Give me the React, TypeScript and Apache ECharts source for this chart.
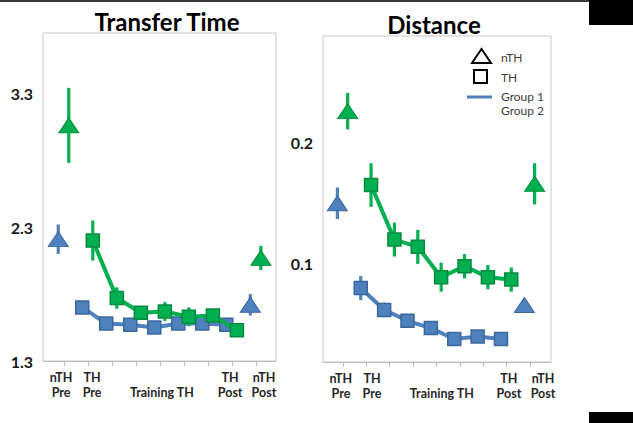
import React, { useEffect, useRef } from "react";
import * as echarts from "echarts";

// ---------- data ----------
const TICK_INDEX = [0, 1, 2, 3, 4, 5, 6, 7, 8];
const X_LABELS = ["nTH\nPre", "TH\nPre", "\nTraining TH", "TH\nPost", "nTH\nPost"];
const NTH_INDEX = [0, 8]; // nTH Pre, nTH Post
const TH_INDEX = [1, 2, 3, 4, 5, 6, 7]; // TH Pre, training x5, TH Post

// Transfer Time
const TT_TICKS = [1.3, 2.3, 3.3];
const TT_G1_NTH = [2.21, 1.72];
const TT_G1_NTH_ERR = [0.11, 0.08];
const TT_G2_NTH = [3.06, 2.07];
const TT_G2_NTH_ERR = [0.28, 0.09];
const TT_G1_TH = [1.70, 1.58, 1.57, 1.55, 1.58, 1.58, 1.57];
const TT_G1_TH_ERR = [0.02, 0.02, 0.02, 0.02, 0.02, 0.02, 0.02];
const TT_G2_TH = [2.20, 1.77, 1.66, 1.67, 1.63, 1.64, 1.53];
const TT_G2_TH_ERR = [0.15, 0.08, 0.04, 0.07, 0.07, 0.04, 0.05];

// Distance
const DI_TICKS = [0.1, 0.2];
const DI_G1_NTH = [0.150, 0.066];
const DI_G1_NTH_ERR = [0.013, 0.0];
const DI_G2_NTH = [0.226, 0.166];
const DI_G2_NTH_ERR = [0.015, 0.017];
const DI_G1_TH = [0.080, 0.062, 0.053, 0.047, 0.038, 0.040, 0.038];
const DI_G1_TH_ERR = [0.010, 0.006, 0.002, 0.002, 0.002, 0.002, 0.002];
const DI_G2_TH = [0.165, 0.120, 0.114, 0.089, 0.098, 0.089, 0.087];
const DI_G2_TH_ERR = [0.018, 0.014, 0.014, 0.012, 0.010, 0.010, 0.010];

// ---------- style / layout ----------
const BLUE = "#4f81bd";
const BLUE_DARK = "#3b679c";
const GREEN = "#00b050";
const GREEN_DARK = "#008a3e";
const FONT = "Lato, 'Open Sans', sans-serif";
const G1_OFF = -0.24;
const G2_OFF = 0.2;
const LABEL_POS_L = [-0.12, 1.17, 4.08, 6.92, 8.33];
const LABEL_POS_R = [-0.09, 1.24, 4.23, 7.1, 8.56];

const pts = (idx: number[], off: number, vals: number[], errs?: number[]) =>
  idx.map((i, k) => (errs ? [i + off, vals[k], errs[k]] : [i + off, vals[k]]));

function errSeries(gi: number, color: string, data: number[][]) {
  return {
    type: "custom",
    xAxisIndex: gi,
    yAxisIndex: gi,
    z: 2,
    encode: { x: 0, y: 1 },
    data,
    renderItem: (_p: any, api: any) => {
      const x = api.value(0);
      const y = api.value(1);
      const e = api.value(2);
      const a = api.coord([x, y + e]);
      const b = api.coord([x, y - e]);
      return {
        type: "line",
        shape: { x1: a[0], y1: a[1], x2: b[0], y2: b[1] },
        style: { stroke: color, lineWidth: 3.2 },
      };
    },
  };
}

function panelSeries(
  gi: number,
  g1nth: number[], g1nthE: number[], g2nth: number[], g2nthE: number[],
  g1th: number[], g1thE: number[], g2th: number[], g2thE: number[]
) {
  const tri = (color: string, dark: string, data: number[][]) => ({
    type: "scatter",
    xAxisIndex: gi,
    yAxisIndex: gi,
    symbol: "triangle",
    symbolSize: [20, 15],
    z: 4,
    itemStyle: { color, borderColor: dark, borderWidth: 1, opacity: 1 },
    data,
  });
  const sq = (color: string, dark: string, data: number[][], z: number) => ({
    type: "line",
    xAxisIndex: gi,
    yAxisIndex: gi,
    symbol: "rect",
    symbolSize: 13,
    z,
    lineStyle: { color, width: 4 },
    itemStyle: { color, borderColor: dark, borderWidth: 1.5 },
    data,
  });
  return [
    errSeries(gi, BLUE, pts(TH_INDEX, G1_OFF, g1th, g1thE)),
    errSeries(gi, BLUE, pts(NTH_INDEX, G1_OFF, g1nth, g1nthE)),
    sq(BLUE, BLUE_DARK, pts(TH_INDEX, G1_OFF, g1th), 3),
    tri(BLUE, BLUE_DARK, pts(NTH_INDEX, G1_OFF, g1nth)),
    { ...errSeries(gi, GREEN, pts(TH_INDEX, G2_OFF, g2th, g2thE)), z: 5 },
    { ...errSeries(gi, GREEN, pts(NTH_INDEX, G2_OFF, g2nth, g2nthE)), z: 5 },
    sq(GREEN, GREEN_DARK, pts(TH_INDEX, G2_OFF, g2th), 6),
    { ...tri(GREEN, GREEN_DARK, pts(NTH_INDEX, G2_OFF, g2nth)), z: 7 },
  ];
}

function xAxis(gi: number, min: number, max: number, labelPos: number[]) {
  return {
    type: "value",
    gridIndex: gi,
    min,
    max,
    splitLine: { show: false },
    axisLine: { show: true, onZero: false, lineStyle: { color: "#bdbdbd", width: 1 } },
    axisTick: {
      show: true,
      inside: false,
      length: 5,
      customValues: TICK_INDEX,
      lineStyle: { color: "#bdbdbd" },
    },
    axisLabel: {
      show: true,
      customValues: labelPos,
      formatter: (v: number) => {
        const k = labelPos.findIndex((p) => Math.abs(p - v) < 1e-6);
        return k >= 0 ? X_LABELS[k] : "";
      },
      margin: 9,
      color: "#262626",
      fontFamily: FONT,
      fontWeight: "bold",
      fontSize: 12.5,
      lineHeight: 15,
      hideOverlap: false,
    },
  };
}

function yAxis(gi: number, min: number, max: number, ticks: number[]) {
  return {
    type: "value",
    gridIndex: gi,
    min,
    max,
    splitLine: { show: false },
    axisLine: { show: false },
    axisTick: { show: false },
    axisLabel: {
      show: true,
      customValues: ticks,
      formatter: (v: number) => v.toFixed(1),
      margin: 10,
      color: "#1a1a1a",
      fontFamily: FONT,
      fontWeight: "bold",
      fontSize: 16,
    },
  };
}

export default function App() {
  const ref = useRef<HTMLDivElement>(null);
  useEffect(() => {
    if (!ref.current) return;
    const chart = echarts.init(ref.current, undefined, { renderer: "svg" });
    const option: any = {
      animation: false,
      backgroundColor: "#ffffff",
      title: [
        {
          text: "Transfer Time",
          left: 162,
          top: 4,
          textAlign: "center",
          textStyle: { fontFamily: FONT, fontWeight: "bold", fontSize: 24, color: "#000" },
        },
        {
          text: "Distance",
          left: 429,
          top: 7,
          textAlign: "center",
          textStyle: { fontFamily: FONT, fontWeight: "bold", fontSize: 24, color: "#000" },
        },
      ],
      grid: [
        { left: 43, top: 33, width: 233, height: 328, show: true, borderColor: "#c8c8c8", borderWidth: 1, backgroundColor: "#fff" },
        { left: 323, top: 36, width: 228, height: 326, show: true, borderColor: "#c8c8c8", borderWidth: 1, backgroundColor: "#fff" },
      ],
      xAxis: [xAxis(0, -0.875, 8.83, LABEL_POS_L), xAxis(1, -0.856, 8.9, LABEL_POS_R)],
      yAxis: [yAxis(0, 1.3, 3.75, TT_TICKS), yAxis(1, 0.019, 0.288, DI_TICKS)],
      series: [
        ...panelSeries(0, TT_G1_NTH, TT_G1_NTH_ERR, TT_G2_NTH, TT_G2_NTH_ERR, TT_G1_TH, TT_G1_TH_ERR, TT_G2_TH, TT_G2_TH_ERR),
        ...panelSeries(1, DI_G1_NTH, DI_G1_NTH_ERR, DI_G2_NTH, DI_G2_NTH_ERR, DI_G1_TH, DI_G1_TH_ERR, DI_G2_TH, DI_G2_TH_ERR),
      ],
      graphic: [
        { type: "rect", shape: { x: 0, y: 0, width: 633, height: 2 }, style: { fill: "#3c3c3c" } },
        { type: "rect", shape: { x: 589, y: 0, width: 44, height: 25 }, style: { fill: "#000" } },
        { type: "rect", shape: { x: 589, y: 412, width: 44, height: 11 }, style: { fill: "#000" } },
        {
          type: "polygon",
          shape: { points: [[472, 63], [491, 63], [481.5, 49]] },
          style: { fill: "none", stroke: "#000", lineWidth: 2 },
        },
        { type: "rect", shape: { x: 474, y: 70, width: 13, height: 13 }, style: { fill: "none", stroke: "#000", lineWidth: 2 } },
        { type: "line", shape: { x1: 467, y1: 97, x2: 492, y2: 97 }, style: { stroke: BLUE, lineWidth: 3 } },
        { type: "text", x: 501, y: 57, style: { text: "nTH", fontFamily: FONT, fontSize: 12, fill: "#404040", verticalAlign: "middle" } },
        { type: "text", x: 501, y: 77, style: { text: "TH", fontFamily: FONT, fontSize: 12, fill: "#404040", verticalAlign: "middle" } },
        { type: "text", x: 501, y: 96, style: { text: "Group 1", fontFamily: FONT, fontSize: 12, fill: "#404040", verticalAlign: "middle" } },
        { type: "text", x: 501, y: 110, style: { text: "Group 2", fontFamily: FONT, fontSize: 12, fill: "#404040", verticalAlign: "middle" } },
      ],
    };
    chart.setOption(option);
    return () => chart.dispose();
  }, []);
  return (
    <div
      ref={ref}
      style={{ position: "fixed", left: 0, top: 0, width: 633, height: 423 }}
    />
  );
}
